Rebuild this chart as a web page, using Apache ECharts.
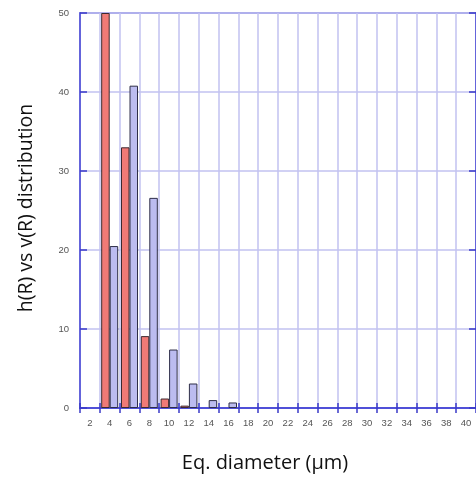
<!DOCTYPE html>
<html>
<head>
<meta charset="utf-8">
<script src="https://cdn.jsdelivr.net/npm/echarts@6/dist/echarts.min.js"></script>
<style>
html,body{margin:0;padding:0;background:#fff;}
#chart{width:476px;height:478px;}
</style>
</head>
<body>
<div id="chart"></div>
<script>
// Data
var categories = ['2','4','6','8','10','12','14','16','18','20','22','24','26','28','30','32','34','36','38','40'];
var hR = [0, 50, 33, 9.1, 1.2, 0.3, 0, 0, 0, 0, 0, 0, 0, 0, 0, 0, 0, 0, 0, 0];
var vR = [0, 20.5, 40.8, 26.6, 7.4, 3.1, 1.0, 0.7, 0, 0, 0, 0, 0, 0, 0, 0, 0, 0, 0, 0];
var yTicks = [0, 10, 20, 30, 40, 50];
var xTitle = 'Eq. diameter (μm)';
var yTitle = 'h(R) vs v(R) distribution';

var chart = echarts.init(document.getElementById('chart'), null, {renderer: 'canvas'});
var border = '#4b4bd6';
var gridC = '#c2c2f0';
var labelStyle = {color: '#555', fontSize: 9.5, fontFamily: 'Liberation Sans, Arial, sans-serif'};

function nz(arr){ return arr.map(function(v){ return v === 0 ? null : v; }); }

var option = {
  animation: false,
  backgroundColor: '#fff',
  grid: {left: 80, right: 0, top: 13, bottom: 70, show: true, borderColor: border, borderWidth: 1.5, backgroundColor: 'transparent', containLabel: false},
  xAxis: [{
    type: 'category', data: categories, position: 'bottom',
    axisLine: {show: true, lineStyle: {color: border, width: 1.5}},
    axisTick: {show: true, inside: true, length: 5, alignWithLabel: false, lineStyle: {color: '#3a3ac8', width: 1.5}},
    axisLabel: Object.assign({margin: 10, interval: 0}, labelStyle),
    splitLine: {show: true, lineStyle: {color: gridC, width: 1.5}}
  }, {
    type: 'category', data: categories, position: 'top',
    axisLine: {show: true, lineStyle: {color: border, width: 1.5}},
    axisTick: {show: true, inside: true, length: 5, alignWithLabel: false, lineStyle: {color: '#3a3ac8', width: 1.5}},
    axisLabel: {show: false}, splitLine: {show: false}
  }],
  yAxis: [{
    type: 'value', min: 0, max: 50, interval: 10,
    axisLine: {show: true, lineStyle: {color: border, width: 1.5}},
    axisTick: {show: true, inside: true, length: 7, lineStyle: {color: '#3a3ac8', width: 1.5}},
    axisLabel: Object.assign({margin: 11, formatter: function(v){ return yTicks.indexOf(v) >= 0 ? String(v) : ''; }}, labelStyle),
    splitLine: {show: true, lineStyle: {color: gridC, width: 1.5}}
  }, {
    type: 'value', min: 0, max: 50, interval: 10, position: 'right',
    axisLine: {show: true, lineStyle: {color: border, width: 1.5}},
    axisTick: {show: true, inside: true, length: 7, lineStyle: {color: '#3a3ac8', width: 1.5}},
    axisLabel: {show: false}, splitLine: {show: false}
  }],
  series: [{
    name: 'h(R)', type: 'bar', data: nz(hR), xAxisIndex: 0, yAxisIndex: 0,
    barWidth: 8.5, barGap: '0%',
    itemStyle: {color: '#f07a76', borderColor: '#3c2a30', borderWidth: 1}
  }, {
    name: 'v(R)', type: 'bar', data: nz(vR), xAxisIndex: 0, yAxisIndex: 0,
    barWidth: 8.5, barGap: '0%',
    itemStyle: {color: '#bcbcf0', borderColor: '#2e2e48', borderWidth: 1}
  }],
  graphic: [{
    type: 'text', x: 265, y: 463,
    style: {text: xTitle, fill: '#111', font: '20px "Open Sans", "Noto Sans", sans-serif', align: 'center', verticalAlign: 'middle'}
  }, {
    type: 'text', rotation: Math.PI / 2, x: 26, y: 208,
    style: {text: yTitle, fill: '#111', font: '19.5px "Open Sans", "Noto Sans", sans-serif', align: 'center', verticalAlign: 'middle'}
  }]
};
chart.setOption(option);
</script>
</body>
</html>
